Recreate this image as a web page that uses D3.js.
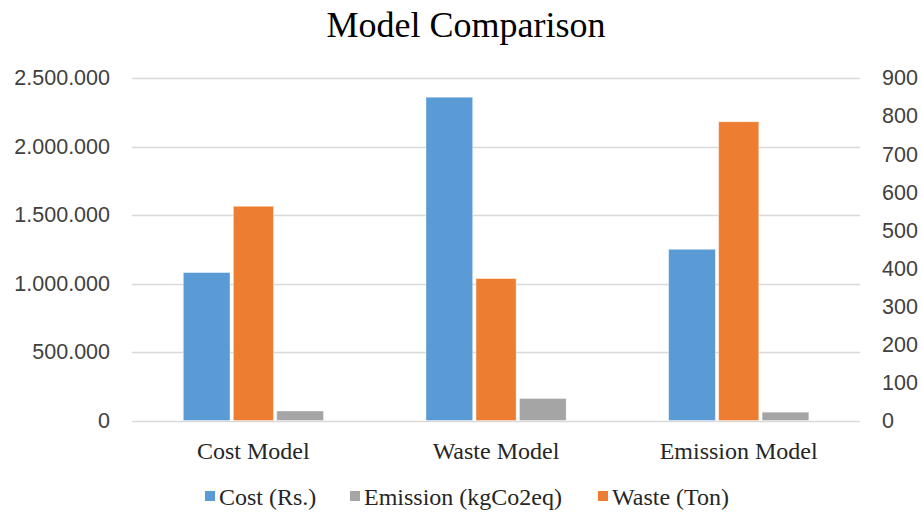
<!DOCTYPE html>
<html>
<head>
<meta charset="utf-8">
<script src="https://cdn.jsdelivr.net/npm/d3@7/dist/d3.min.js"></script>
<style>
  html, body { margin: 0; padding: 0; background: #fff; }
  svg { display: block; }
</style>
</head>
<body>
<svg id="chart" width="922" height="515"></svg>
<script>
const categories = ["Cost Model", "Waste Model", "Emission Model"];
const costValues = [1080000, 2360000, 1250000];      // left axis
const wasteValues = [563, 373, 785];                 // right axis
const emissionValues = [25, 58, 22];                 // right axis
const leftTicks = [0, 500000, 1000000, 1500000, 2000000, 2500000];
const rightTicks = [0, 100, 200, 300, 400, 500, 600, 700, 800, 900];
const seriesNames = ["Cost (Rs.)", "Emission (kgCo2eq)", "Waste (Ton)"];

const colors = { cost: "#5B9BD5", waste: "#ED7D31", emission: "#A5A5A5" };

const svg = d3.select("#chart");
const plot = { left: 132, right: 860, top: 78, bottom: 420.5 };

const x = d3.scaleBand().domain(categories).range([plot.left, plot.right]).padding(0);
const slot = d3.scaleBand().domain(["cost", "waste", "emission"]).range([51.3, 191.5]).padding(0);
const yL = d3.scaleLinear().domain([0, 2500000]).range([plot.bottom, plot.top]);
const yR = d3.scaleLinear().domain([0, 900]).range([plot.bottom, plot.top]);

const locale = d3.formatLocale({ decimal: ",", thousands: ".", grouping: [3], currency: ["", ""] });
const fmt = locale.format(",");

// Title
svg.append("text")
  .attr("x", 466).attr("y", 37)
  .attr("text-anchor", "middle")
  .attr("font-family", "'Liberation Serif', 'Times New Roman', serif")
  .attr("font-size", 36)
  .attr("fill", "#000")
  .text("Model Comparison");

// Gridlines
svg.append("g").selectAll("line").data(leftTicks).join("line")
  .attr("x1", plot.left).attr("x2", plot.right)
  .attr("y1", d => Math.round(yL(d)) + 0.5).attr("y2", d => Math.round(yL(d)) + 0.5)
  .attr("stroke", "#D9D9D9").attr("stroke-width", 1.3);

// Left axis
const leftAxis = d3.axisLeft(yL).tickValues(leftTicks).tickFormat(fmt).tickSize(0).tickPadding(0);
const gL = svg.append("g").attr("transform", "translate(110,0)").call(leftAxis);
gL.select(".domain").remove();
gL.selectAll("text")
  .attr("font-family", "'Liberation Sans', Arial, sans-serif")
  .attr("font-size", 21.5).attr("fill", "#404040");

// Right axis
const rightAxis = d3.axisRight(yR).tickValues(rightTicks).tickSize(0).tickPadding(0);
const gR = svg.append("g").attr("transform", "translate(882,0)").call(rightAxis);
gR.select(".domain").remove();
gR.selectAll("text")
  .attr("font-family", "'Liberation Sans', Arial, sans-serif")
  .attr("font-size", 21.5).attr("fill", "#404040");

// Bars
const g = svg.append("g");
const inset = { cost: 0, waste: 3.3, emission: 0 };
function drawSeries(key, values, scale) {
  g.append("g").selectAll("rect").data(categories).join("rect")
    .attr("x", (c) => x(c) + slot(key) + inset[key])
    .attr("width", slot.bandwidth() - 2 * inset[key])
    .attr("y", (c, i) => scale(values[i]))
    .attr("height", (c, i) => plot.bottom - scale(values[i]))
    .attr("fill", colors[key])
    .attr("stroke", "#fff").attr("stroke-opacity", 0.5).attr("stroke-width", 0.8);
}
drawSeries("cost", costValues, yL);
drawSeries("waste", wasteValues, yR);
drawSeries("emission", emissionValues, yR);

// X labels
svg.append("g").selectAll("text").data(categories).join("text")
  .attr("x", c => x(c) + x.bandwidth() / 2)
  .attr("y", 459)
  .attr("text-anchor", "middle")
  .attr("font-family", "'Liberation Serif', 'Times New Roman', serif")
  .attr("font-size", 24)
  .attr("fill", "#262626")
  .text(c => c);

// Legend
const legendKeys = ["cost", "emission", "waste"];
const legendX = [205, 350, 598];
const lg = svg.append("g");
legendKeys.forEach((k, i) => {
  lg.append("rect").attr("x", legendX[i]).attr("y", 491).attr("width", 10).attr("height", 10).attr("fill", colors[k]);
  lg.append("text").attr("x", legendX[i] + 14).attr("y", 504.5)
    .attr("font-family", "'Liberation Serif', 'Times New Roman', serif")
    .attr("font-size", 24).attr("fill", "#262626")
    .text(seriesNames[i]);
});
</script>
</body>
</html>
